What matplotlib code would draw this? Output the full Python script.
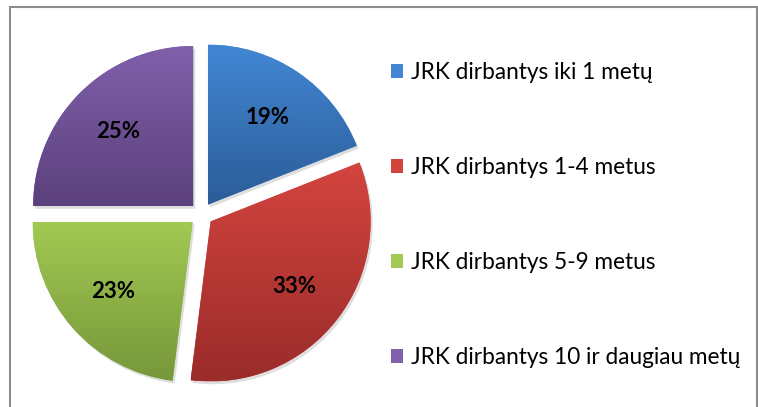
import matplotlib
matplotlib.use("Agg")
from matplotlib import pyplot as plt
from matplotlib import patheffects as pe
from matplotlib.colors import LinearSegmentedColormap
import numpy as np

plt.rcParams['font.family'] = ['Lato', 'DejaVu Sans']

# data
labels = ["JRK dirbantys iki 1 metų", "JRK dirbantys 1-4 metus",
          "JRK dirbantys 5-9 metus", "JRK dirbantys 10 ir daugiau metų"]
shares = [19, 33, 23, 25]
top_colors = ["#4286d3", "#d4443f", "#a2c952", "#8060ab"]
bottom_colors = ["#2b5c98", "#9a2c2a", "#76973a", "#5b407c"]

W, H = 758, 407
fig = plt.figure(figsize=(W / 100, H / 100), dpi=100)
ax = fig.add_axes([0, 0, 1, 1])

# pie in pixel coordinates (y up)
radius = 160
center = (201.4, H - 214.3)
wedges, texts, autotexts = ax.pie(
    shares, radius=radius, center=center, startangle=90, counterclock=False,
    explode=[0.073 * radius] * 4, colors=top_colors, autopct="%.0f%%",
    pctdistance=0.66, frame=True,
    textprops=dict(fontsize=16, fontweight="bold", color="black"),
    wedgeprops=dict(linewidth=0))

# vertical gradient inside each slice + soft shadow
for w, c0, c1 in zip(wedges, top_colors, bottom_colors):
    w.set_path_effects([pe.SimplePatchShadow(offset=(1.5, -2.0), shadow_rgbFace="#000000",
                                             alpha=0.13), pe.Normal()])
    x0, y0, x1, y1 = w.get_path().get_extents().extents
    cmap = LinearSegmentedColormap.from_list("g", [c1, c0])
    grad = np.linspace(0, 1, 256).reshape(-1, 1)
    im = ax.imshow(grad, cmap=cmap, extent=[x0, x1, y0, y1], origin="lower",
                   aspect="auto", zorder=1.5, interpolation="bilinear")
    im.set_clip_path(w)
for t in autotexts:
    t.set_zorder(3)

ax.set_xlim(0, W)
ax.set_ylim(0, H)
ax.set_aspect("auto")
ax.axis("off")

# outer frame (left, top, right)
ax.plot([10, 10, 757, 757], [0, H - 7, H - 7, 0], color="#8c8c8c", lw=1.5,
        solid_joinstyle="miter", clip_on=False)

leg = ax.legend(wedges, labels, loc="upper left", bbox_to_anchor=(391 / W, 1 - 62 / H),
                frameon=False, fontsize=16.3, handlelength=0.55, handleheight=0.55,
                handletextpad=0.32, labelspacing=3.27, borderpad=0, borderaxespad=0)
for h in leg.legend_handles:
    h.set_path_effects([])

fig.savefig("out.png", dpi=100)
